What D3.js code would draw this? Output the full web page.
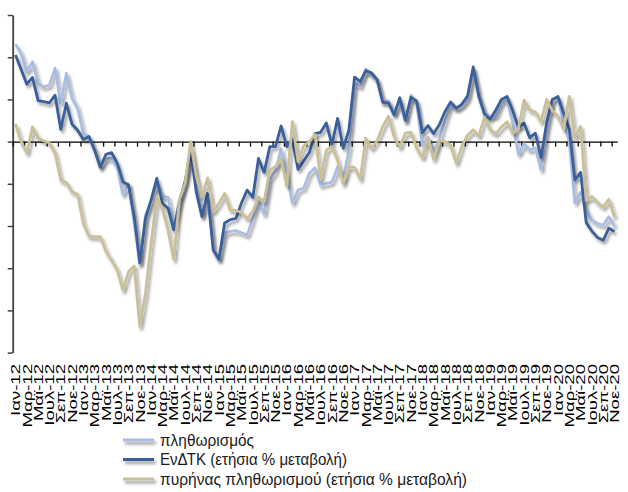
<!DOCTYPE html>
<html><head><meta charset="utf-8">
<script src="https://cdn.jsdelivr.net/npm/d3@7"></script>
<style>body{margin:0;background:#fff}svg{display:block}</style>
</head><body>
<svg id="c" width="628" height="492"></svg>
<script>
const monthNames = ["Ιαν","Φεβ","Μαρ","Απρ","Μαϊ","Ιουν","Ιουλ","Αυγ","Σεπ","Οκτ","Νοε","Δεκ"];
const years = ["12","13","14","15","16","17","18","19","20"];
const categories = [];
years.forEach(yy => monthNames.forEach(m => categories.push(m + "-" + yy)));
categories.length = 107; // Ιαν-12 ... Νοε-20

const yTicks = [-5,-4,-3,-2,-1,0,1,2,3];

const seriesNames = ["πληθωρισμός","ΕνΔΤΚ (ετήσια % μεταβολή)","πυρήνας πληθωρισμού (ετήσια % μεταβολή)"];
const seriesColors = ["#a9bde3","#3a5e98","#c9bf98"];

const inflation = [
 2.31,2.09,1.66,1.89,1.38,1.30,1.34,1.74,0.91,1.62,1.03,0.79,
 0.20,0.10,-0.20,-0.60,-0.40,-0.40,-0.60,-1.25,-1.00,-1.90,-2.90,-1.75,
 -1.40,-1.00,-1.30,-1.32,-2.02,-1.38,-0.97,-0.33,-0.95,-1.75,-1.23,-2.55,
 -2.80,-2.17,-2.13,-2.11,-2.16,-2.21,-1.82,-1.40,-1.72,-0.90,-0.70,-0.18,
 -0.75,-1.46,-1.15,-1.10,-0.75,-0.62,-1.03,-0.99,-0.96,-0.60,-0.90,-0.20,
 1.40,1.30,1.72,1.58,1.46,0.95,0.97,0.66,0.95,0.48,1.10,0.90,
 -0.10,0.10,-0.25,0.05,0.50,0.87,0.78,0.85,1.00,1.70,1.05,0.68,
 0.60,0.60,0.92,1.00,0.45,-0.30,-0.05,-0.20,-0.15,-0.67,0.28,0.99,
 1.03,0.45,0.00,-1.45,-1.20,-1.62,-1.86,-1.94,-1.98,-1.78,-2.00
];
const hicp = [
 2.05,1.71,1.36,1.52,0.97,0.95,0.92,1.10,0.29,0.91,0.41,0.27,
 0.05,0.12,-0.20,-0.61,-0.30,-0.26,-0.51,-0.95,-1.03,-1.78,-2.87,-1.82,
 -1.38,-0.87,-1.46,-1.58,-2.09,-1.46,-0.95,-0.24,-1.20,-1.78,-1.23,-2.57,
 -2.79,-1.93,-1.85,-1.82,-1.45,-1.15,-1.32,-0.40,-0.73,-0.12,-0.12,0.37,
 -0.12,0.06,-0.66,-0.46,-0.26,0.19,0.22,0.44,-0.07,0.55,-0.16,0.28,
 1.53,1.42,1.68,1.63,1.47,0.93,0.92,0.63,1.04,0.51,1.05,0.96,
 0.21,0.38,0.19,0.40,0.71,0.94,0.79,0.89,1.08,1.77,1.08,0.65,
 0.53,0.75,1.00,1.07,0.73,0.33,0.44,0.09,0.20,-0.38,0.45,1.00,
 1.07,0.67,0.30,-0.91,-0.73,-1.92,-2.12,-2.27,-2.34,-2.05,-2.13
];
const core = [
 0.42,0.00,-0.27,0.35,0.08,0.02,-0.03,-0.27,-0.91,-0.97,-1.19,-1.25,
 -1.94,-2.24,-2.25,-2.25,-2.60,-2.81,-3.04,-3.52,-3.08,-2.95,-4.38,-3.60,
 -2.40,-1.30,-1.60,-2.10,-2.79,-1.38,-0.99,0.00,-0.83,-1.30,-0.86,-1.66,
 -1.46,-1.23,-1.62,-1.63,-1.68,-1.82,-1.65,-1.31,-1.42,-0.67,-0.59,-0.40,
 -1.05,0.47,-0.47,-0.10,0.00,0.17,-0.89,-0.20,-0.12,-0.44,-1.00,-0.59,
 -0.61,-0.89,0.08,-0.16,0.02,0.36,0.60,0.12,-0.13,0.20,0.22,-0.16,
 -0.38,0.08,-0.42,0.02,0.00,-0.08,-0.51,-0.10,0.15,0.28,0.14,0.58,
 0.28,0.19,0.35,0.47,0.20,0.31,0.98,0.75,0.70,0.47,1.00,0.73,
 0.60,0.30,1.07,0.10,0.36,-1.40,-1.30,-1.44,-1.55,-1.37,-1.79
];
const series = [inflation, hicp, core];

(function(){
const svg = d3.select("#c");
const pL = 12.7, pR = 617.3, pT = 15, pB = 352.6;

const x = d3.scaleBand().domain(d3.range(categories.length)).range([pL, pR]).padding(0);
const xb = d3.scaleLinear().domain([0, categories.length]).range([pL, pR]);
const y = d3.scaleLinear().domain([-5, 3]).range([pB, pT]);

const defs = svg.append("defs");
const f = defs.append("filter").attr("id","sh").attr("filterUnits","userSpaceOnUse")
  .attr("x",0).attr("y",0).attr("width",628).attr("height",492);
f.append("feDropShadow").attr("dx",2).attr("dy",3).attr("stdDeviation",1.6)
 .attr("flood-color","#000").attr("flood-opacity",0.38);

// y axis
const ya = svg.append("g").attr("transform",`translate(${pL},0)`)
  .call(d3.axisLeft(y).tickValues(yTicks).tickSize(5).tickFormat("").tickSizeOuter(0));
ya.select(".domain").attr("stroke","#404040").attr("stroke-width",1.8);
ya.selectAll(".tick line").attr("stroke","#404040").attr("stroke-width",1.5);

// x axis at zero
const xa = svg.append("g").attr("transform",`translate(0,${y(0)})`)
  .call(d3.axisBottom(xb).tickValues(d3.range(0, categories.length, 2)).tickSize(5).tickFormat("").tickSizeOuter(0));
xa.select(".domain").attr("stroke","#000").attr("stroke-width",1.3);
xa.selectAll(".tick line").attr("stroke","#000").attr("stroke-width",1.3);

// lines
const line = d3.line().x((d,i) => x(i) + x.bandwidth()/2).y(d => y(d));
series.forEach((s, k) => {
  svg.append("path").datum(s).attr("d", line).attr("fill","none")
    .attr("stroke", seriesColors[k]).attr("stroke-width", 2.8)
    .attr("stroke-linejoin","round").attr("filter","url(#sh)");
});

// category labels
const la = svg.append("g").attr("transform","translate(0,364)")
  .call(d3.axisBottom(x).tickValues(d3.range(0, categories.length, 2)).tickSize(0).tickPadding(0)
  .tickFormat(i => categories[i]));
la.select(".domain").remove();
const lt = la.selectAll("text").attr("font-family","'Liberation Sans',Arial,sans-serif")
  .attr("font-size",13).attr("fill","#000").attr("text-anchor","end")
  .attr("y",0).attr("dy","0.36em");
const baseLen = lt.node().getComputedTextLength();
const sy = 52 / baseLen;
lt.attr("transform", `scale(1,${sy}) rotate(-90)`);

// legend
const legY = [440, 459.5, 479];
const legW = [94, 187, 307];
seriesNames.forEach((n, k) => {
  const g = svg.append("g");
  g.append("line").attr("x1",123).attr("x2",154).attr("y1",legY[k]).attr("y2",legY[k])
   .attr("stroke",seriesColors[k]).attr("stroke-width",3).attr("filter","url(#sh)");
  g.append("text").attr("x",160).attr("y",legY[k]+5.5).text(n)
   .attr("font-family","'Liberation Sans',Arial,sans-serif").attr("font-size",16.5)
   .attr("fill","#1a1a1a").attr("textLength",legW[k]).attr("lengthAdjust","spacingAndGlyphs");
});
})();
</script>
</body></html>
